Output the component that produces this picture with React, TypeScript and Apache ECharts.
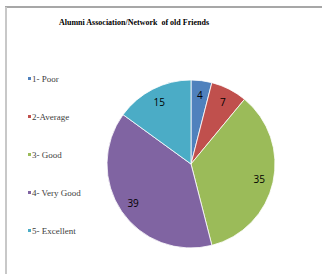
import React, { useEffect, useRef } from "react";
import * as echarts from "echarts";

const categories = ["1- Poor", "2-Average", "3- Good", "4- Very Good", "5- Excellent"];
const values = [4, 7, 35, 39, 15];
const colors = ["#4F81BD", "#C0504D", "#9BBB59", "#8064A2", "#4BACC6"];
const titleText = "Alumni Association/Network  of old Friends";

export default function App() {
  const ref = useRef<HTMLDivElement>(null);
  useEffect(() => {
    if (!ref.current) return;
    const chart = echarts.init(ref.current, null, { renderer: "svg" });
    const data = categories.map((name, i) => ({
      name,
      value: values[i],
      itemStyle: { color: colors[i] },
    }));
    const labelData = categories.map((name, i) => ({ name, value: values[i] }));
    const legendText = {
      fontFamily: "Liberation Serif",
      fontSize: 9,
    };
    chart.setOption({
      animation: false,
      backgroundColor: "#ffffff",
      title: {
        text: titleText,
        left: 54,
        top: 13,
        textStyle: {
          fontFamily: "Liberation Serif",
          fontWeight: "bold",
          fontSize: 8,
          color: "#000",
        },
      },
      legend: [
        {
          orient: "vertical",
          left: 21,
          top: 69,
          padding: 5,
          itemWidth: 5,
          itemHeight: 5,
          itemGap: 29,
          icon: "rect",
          selectedMode: false,
          data: categories,
          formatter: () => " ",
          textStyle: { ...legendText, color: "#404040" },
        },
        {
          orient: "vertical",
          left: 22,
          top: 69,
          padding: 5,
          itemWidth: 0,
          itemHeight: 5,
          itemGap: 29,
          icon: "none",
          selectedMode: false,
          data: categories,
          textStyle: { ...legendText, color: "#404040" },
        },
      ],
      graphic: [
        { type: "line", shape: { x1: 5, y1: 7, x2: 322, y2: 7 }, style: { stroke: "#8a8a8a", lineWidth: 1.5 } },
        { type: "line", shape: { x1: 6, y1: 7, x2: 6, y2: 274 }, style: { stroke: "#c8c8c8", lineWidth: 2 } },
      ],
      series: [
        {
          type: "pie",
          center: [191, 164],
          radius: [0, 84],
          startAngle: 90,
          clockwise: true,
          label: { show: false },
          labelLine: { show: false },
          itemStyle: { borderColor: "#ffffff", borderWidth: 0.8 },
          data,
        },
        {
          type: "pie",
          center: [191, 164],
          radius: [50, 84],
          startAngle: 90,
          clockwise: true,
          silent: true,
          legendHoverLink: false,
          itemStyle: { color: "rgba(0,0,0,0)" },
          label: {
            show: true,
            position: "inside",
            formatter: "{c}",
            fontFamily: "Open Sans",
            fontSize: 10,
            color: "#000",
          },
          labelLine: { show: false },
          data: labelData,
        },
      ],
    });
    return () => chart.dispose();
  }, []);
  return (
    <div
      ref={ref}
      style={{ position: "absolute", left: 0, top: 0, width: 322, height: 274 }}
    />
  );
}
